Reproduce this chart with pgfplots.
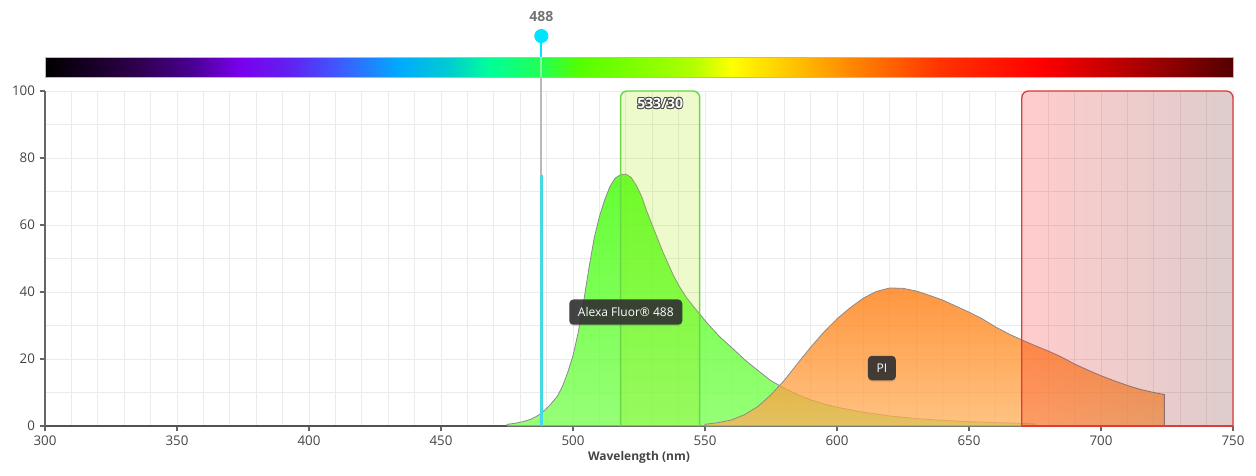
\documentclass[border=0pt]{standalone}
\usepackage{fontspec}
\setmainfont{Open Sans}
\usepackage{pgfplots}
\pgfplotsset{compat=1.18}
\usetikzlibrary{shadows}

% general colours
\definecolor{tickgray}{HTML}{444444}
\definecolor{axisgray}{HTML}{666666}
\definecolor{gridgray}{HTML}{EBEBEB}
\definecolor{alexaTop}{RGB}{61,255,0}
\definecolor{alexaBot}{RGB}{124,255,86}
\definecolor{piTop}{RGB}{255,115,0}
\definecolor{piBot}{RGB}{255,175,88}
\definecolor{curveline}{HTML}{8A8A8A}
\definecolor{bandgreen}{RGB}{160,230,0}
\definecolor{bandgreenline}{RGB}{105,215,70}
\definecolor{bandredL}{RGB}{255,0,0}
\definecolor{bandredR}{RGB}{90,0,0}
\definecolor{bandredline}{RGB}{220,60,60}
\definecolor{laser}{HTML}{45D8E8}
\definecolor{laserdot}{HTML}{00E5FF}
\definecolor{tagbg}{HTML}{2E2E2E}

% visible spectrum colours for the wavelength bar
\definecolor{s300}{HTML}{000000}
\definecolor{s336}{HTML}{300050}
\definecolor{s355}{HTML}{48008F}
\definecolor{s374}{HTML}{7A00EE}
\definecolor{s393}{HTML}{6022F0}
\definecolor{s412}{HTML}{3D5CFF}
\definecolor{s434}{HTML}{00AAFF}
\definecolor{s453}{HTML}{00CCD0}
\definecolor{s469}{HTML}{00FF99}
\definecolor{s488}{HTML}{22FF55}
\definecolor{s503}{HTML}{55FF00}
\definecolor{s530}{HTML}{8CFF00}
\definecolor{s545}{HTML}{B0FF00}
\definecolor{s560}{HTML}{FFFF00}
\definecolor{s580}{HTML}{FFCC00}
\definecolor{s605}{HTML}{FF8800}
\definecolor{s639}{HTML}{FF3300}
\definecolor{s677}{HTML}{FF0000}
\definecolor{s715}{HTML}{AA0000}
\definecolor{s750}{HTML}{550000}
% 300..750 nm mapped onto 25bp..75bp
\pgfdeclarehorizontalshading{spectrum}{100bp}{%
 color(0bp)=(s300); color(25bp)=(s300); color(29bp)=(s336);
 color(31.11bp)=(s355); color(33.22bp)=(s374); color(35.33bp)=(s393);
 color(37.44bp)=(s412); color(39.89bp)=(s434); color(42bp)=(s453);
 color(43.73bp)=(s469); color(45.83bp)=(s488); color(47.52bp)=(s503);
 color(50.56bp)=(s530); color(52.22bp)=(s545); color(53.89bp)=(s560);
 color(56.11bp)=(s580); color(58.89bp)=(s605); color(62.67bp)=(s639);
 color(66.89bp)=(s677); color(71.11bp)=(s715); color(75bp)=(s750);
 color(100bp)=(s750)}

\tikzset{
  dyetag/.style={fill=tagbg, fill opacity=0.88, text opacity=1, text=white,
    rounded corners=3pt, font=\fontsize{9}{11}\selectfont,
    inner xsep=6.5pt, inner ysep=6pt,
    drop shadow={shadow xshift=0pt, shadow yshift=-1pt, opacity=0.3}},
  halo/.style={text=black!72, font=\fontsize{10.5}{12}\selectfont\bfseries},
}

\begin{document}
\begin{tikzpicture}
\begin{axis}[
  width=891pt, height=251.25pt, scale only axis,
  xmin=300, xmax=750, ymin=0, ymax=100,
  clip=false,
  axis x line*=bottom, axis y line*=left,
  x axis line style={draw=axisgray!80!black, line width=1pt},
  y axis line style={draw=axisgray, line width=0.8pt},
  xtick={300,350,...,750}, ytick={0,20,...,100},
  minor xtick={310,320,...,740}, minor ytick={10,30,50,70,90},
  grid=both,
  major grid style={draw=gridgray, line width=0.6pt},
  minor grid style={draw=gridgray, line width=0.6pt},
  tick align=outside, major tick length=4pt, minor tick length=0pt,
  tick style={draw=axisgray, line width=0.8pt},
  ticklabel style={font=\fontsize{10}{12}\selectfont, text=tickgray},
  /pgf/number format/assume math mode=true,
  xlabel={Wavelength (nm)},
  xlabel style={font=\fontsize{9}{11}\selectfont\bfseries, text=tickgray, yshift=3pt},
]
\coordinate (ll) at (rel axis cs:0,0);
\coordinate (ur) at (rel axis cs:1,1);

% Alexa Fluor 488 emission
\addplot[draw=curveline, line width=0.6pt, top color=alexaTop, bottom color=alexaBot, fill opacity=0.8]
coordinates {
(475,0) (475,0.5) (478,0.8) (481,1.3) (484,2.0) (486,2.8) (488,3.8) (491,6.0) (494,8.8)
(496,11.8) (498,16) (500,21) (502,28) (504,37) (506,47) (508,56) (510,62.5)
(512,67.5) (514,71.5) (516,74) (518,75) (520,75.2) (522,74.2) (524,71.8)
(526,68.5) (528,64) (530,60) (532,56) (534,52) (536,48.5) (538,45) (540,42)
(543,38.3) (546,35.3) (550,31.5) (553,28.8) (556,26.3) (560,23.5) (565,19.8)
(570,16.6) (575,13.5) (580,11.3) (585,9.4) (590,7.8) (595,6.6) (600,5.6)
(610,4.1) (620,3.0) (630,2.2) (640,1.7) (650,1.3) (660,1.0) (670,0.8) (675,0.6) (675,0)
} \closedcycle;

% PI emission
\addplot[draw=curveline, line width=0.6pt, top color=piTop, bottom color=piBot, fill opacity=0.75]
coordinates {
(550,0) (550,0.5) (555,1.0) (560,1.8) (565,3.4) (570,5.8) (575,9.3) (580,13.6)
(585,18.6) (590,23.5) (595,28.0) (600,32.0) (605,35.3) (610,38.2) (615,40.2)
(620,41.2) (625,41.1) (630,40.3) (635,39.0) (640,37.6) (645,35.8) (650,34.0)
(655,32.0) (660,29.6) (665,27.5) (670,25.7) (675,24.0) (680,22.4) (685,20.6)
(690,18.5) (695,16.7) (700,15.0) (705,13.5) (710,12.1) (715,10.9) (720,10.0)
(724,9.4) (724,0)
} \closedcycle;

% 533/30 filter
\path[fill=bandgreen, fill opacity=0.2, rounded corners=5pt] (518,0) -- (518,100) -- (548,100) -- (548,0);
\draw[bandgreenline, line width=1.1pt, rounded corners=5pt] (518,0) -- (518,100) -- (548,100) -- (548,0);

% 670LP filter
\path[left color=bandredL, right color=bandredR, fill opacity=0.2, rounded corners=5pt] (670,0) -- (670,100) -- (750,100) -- (750,0);
\draw[bandredline, line width=1pt, rounded corners=5pt] (670,0) -- (670,100) -- (750,100) -- (750,0);
\draw[bandredline, line width=1pt] (670,0) -- (750,0);

% filter name with a dark outline
\node[halo, xshift=0.7pt] at (533,96.3) {533/30};
\node[halo, xshift=-0.7pt] at (533,96.3) {533/30};
\node[halo, yshift=0.7pt] at (533,96.3) {533/30};
\node[halo, yshift=-0.7pt] at (533,96.3) {533/30};
\node[halo, xshift=0.5pt, yshift=0.5pt] at (533,96.3) {533/30};
\node[halo, xshift=-0.5pt, yshift=0.5pt] at (533,96.3) {533/30};
\node[halo, xshift=0.5pt, yshift=-0.5pt] at (533,96.3) {533/30};
\node[halo, xshift=-0.5pt, yshift=-0.5pt] at (533,96.3) {533/30};
\node[halo, text=white] at (533,96.3) {533/30};

% wavelength bar
\path[shading=spectrum, draw=gray!55, line width=0.6pt] (300,104.2) rectangle (750,110.1);

% 488 nm laser
\draw[laser, line width=2.3pt] (488,0) -- (488,75);
\draw[gray!55, line width=1.5pt] (488,75) -- (488,104.2);
\draw[white, opacity=0.45, line width=1.5pt] (488,104.2) -- (488,110.1);
\draw[laserdot, line width=1.5pt] (488,110.1) -- (488,116.4);
\fill[laserdot] (488,116.4) circle (5.3pt);
\node[text=black!55, font=\fontsize{10.5}{12}\selectfont\bfseries] at (488,122.2) {488};

% dye tags
\node[dyetag] at (520,34) {Alexa Fluor® 488};
\node[dyetag] at (617,17.3) {PI};
\end{axis}
\pgfresetboundingbox
\path ([xshift=-33.75pt,yshift=-36.75pt]ll) rectangle ([xshift=17.25pt,yshift=68.25pt]ur);
\end{tikzpicture}
\end{document}
